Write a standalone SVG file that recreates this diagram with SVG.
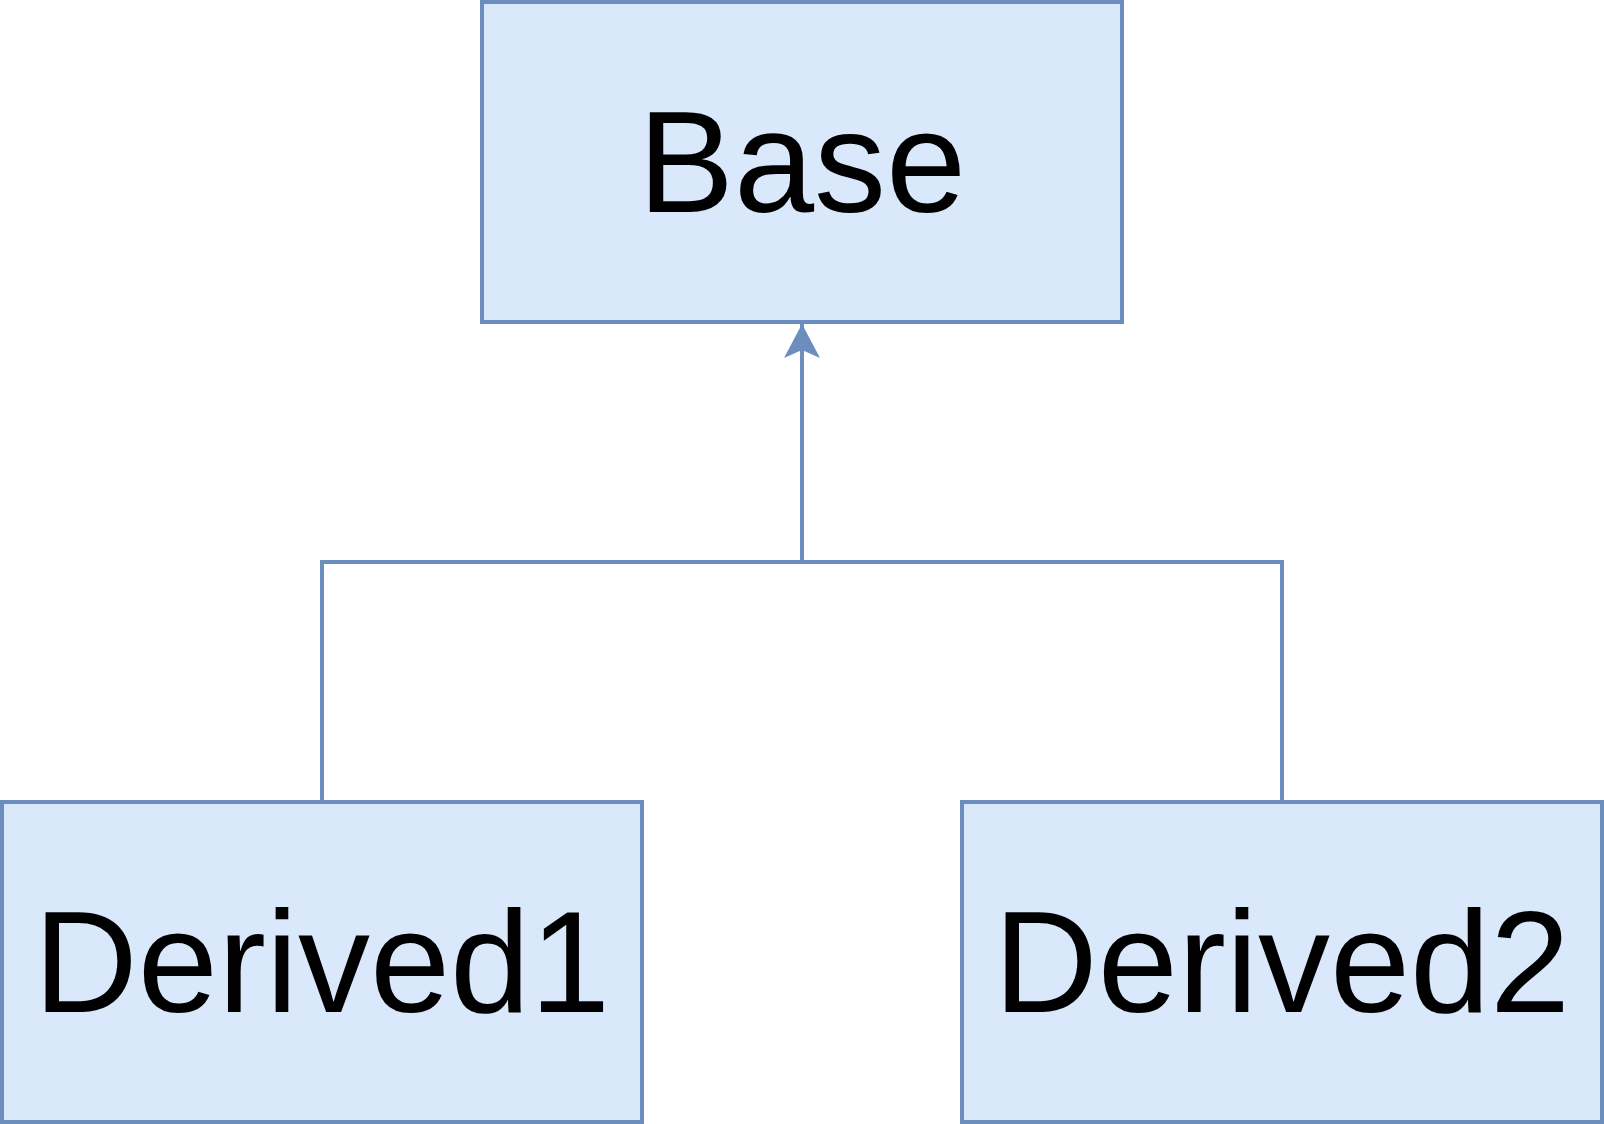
<svg xmlns="http://www.w3.org/2000/svg" width="1604" height="1124" viewBox="0 0 1604 1124">
<style>
.box{fill:#dae8fc;stroke:#6c8ebf;stroke-width:4}
.lbl{font-family:"Liberation Sans",Arial,sans-serif;font-size:144px;fill:#000;text-anchor:middle}
.edge{fill:none;stroke:#6c8ebf;stroke-width:4}
</style>
<defs>
<marker id="arr" markerUnits="userSpaceOnUse" viewBox="0 0 34 36" markerWidth="34" markerHeight="36" refX="34" refY="18" orient="auto">
<path d="M34,18 L0,0 L8,18 L0,36 Z" fill="#6c8ebf"/>
</marker>
</defs>
<rect width="1604" height="1124" fill="#fff"/>
<g id="connectors">
<path class="edge" d="M322,802 L322,562 L802,562 L802,324" marker-end="url(#arr)"/>
<path class="edge" d="M1282,802 L1282,562 L802,562"/>
</g>
<g id="base">
<rect class="box" x="482" y="2" width="640" height="320"/>
<text class="lbl" x="802" y="212">Base</text>
</g>
<g id="derived1">
<rect class="box" x="2" y="802" width="640" height="320"/>
<text class="lbl" x="322" y="1012">Derived1</text>
</g>
<g id="derived2">
<rect class="box" x="962" y="802" width="640" height="320"/>
<text class="lbl" x="1282" y="1012">Derived2</text>
</g>
</svg>
